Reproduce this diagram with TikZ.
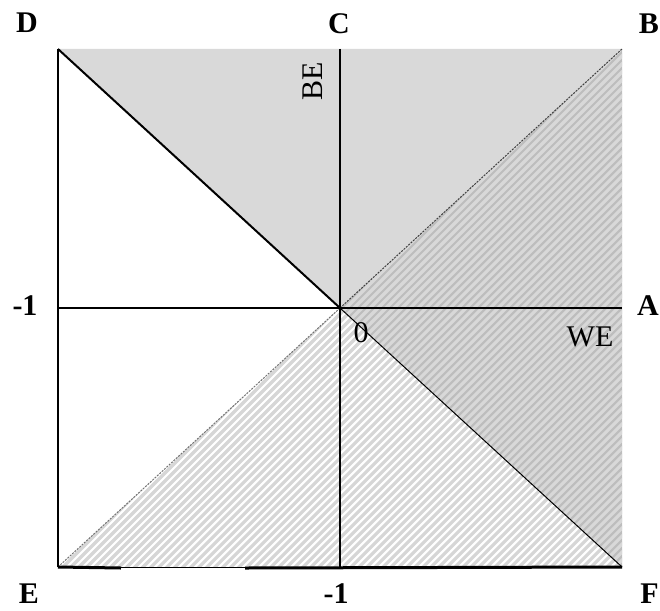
\documentclass[tikz,border=0pt]{standalone}
\usepackage{fontspec}
\setmainfont{Liberation Serif}
\usetikzlibrary{positioning}
\definecolor{topgray}{HTML}{D9D9D9}
\definecolor{darkgray}{HTML}{BDBDBD}
\definecolor{hatch}{HTML}{D8D8D8}
\definecolor{hatchb}{HTML}{D6D6D6}
\tikzset{
  lab/.style={font=\fontsize{30}{33}\selectfont\bfseries, inner sep=0pt},
  ax/.style={font=\fontsize{30}{33}\selectfont, inner sep=0pt},
  thick line/.style={draw=black, line width=2.5pt},
  thin line/.style={draw=black, line width=1pt},
  dash line/.style={draw=black!75, line width=1pt, dash pattern=on 2pt off 1.2pt},
  stripe/.style={line width=3.2pt},
}
\begin{document}
\begin{tikzpicture}[x=1pt, y=-1pt]
\useasboundingbox (0,0) rectangle (660,610);
\coordinate (o) at (340,308);
\coordinate (b) at (622,49);
\coordinate (c) at (340,49);
\coordinate (d) at (58,49);
\coordinate (a) at (622,308);
\coordinate (w) at (58,308);
\coordinate (e) at (58,567);
\coordinate (f) at (622,567);
\coordinate (s) at (340,567);
\coordinate (e1) at (121,568);
\coordinate (e2) at (245,568);

\fill[topgray] (d) -- (b) -- (o) -- cycle;
\fill[darkgray] (o) -- (b) -- (f) -- cycle;
\begin{scope}
\clip (o) -- (b) -- (f) -- cycle;
\foreach \k in {-620,-612,...,660}
  \draw[stripe, hatch] (\k,610) -- ++(610,-610);
\end{scope}
\begin{scope}
\clip (o) -- (f) -- (e) -- cycle;
\foreach \k in {-620,-612,...,660}
  \draw[stripe, hatchb] (\k,610) -- ++(610,-610);
\end{scope}

\draw[dash line] (o) -- (b);
\draw[dash line, draw=black!55] (o) -- (e);
\draw[thick line, line width=2pt] (d) -- (o);
\draw[thin line] (o) -- (f);
\draw[thick line] (c) -- (s);
\draw[thick line] (w) -- (a);
\draw[thick line] (d) -- (e);
\draw[thin line] (e) -- (f);
\draw[thick line, line width=3pt] (e) -- (e1);
\draw[thick line, line width=3pt] (e2) -- (f);

\node[lab] (ld) at (27,23) {D};
\node[lab] (lc) at (339,24) {C};
\node[lab, anchor=east] (lb) at (659,24) {B};
\node[lab, anchor=east] (la) at (659,306) {A};
\node[lab] (lw) at (25,306) {-1};
\node[lab] (le) at (29,594) {E};
\node[lab] (ls) at (336,594) {-1};
\node[lab, anchor=east] (lf) at (659,594) {F};
\node[ax, rotate=90] (be) at (313,81) {BE};
\node[ax] (zero) at (361,333) {0};
\node[ax] (we) at (590,337) {WE};
\end{tikzpicture}
\end{document}
